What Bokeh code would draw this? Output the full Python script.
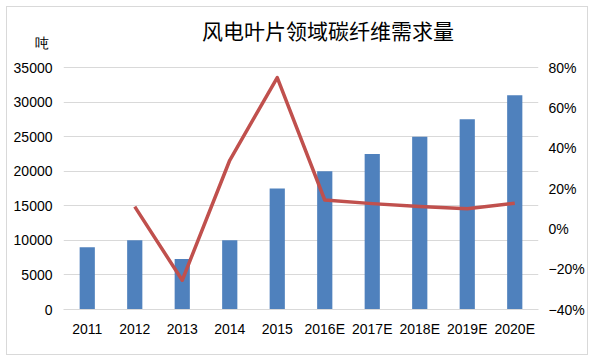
from bokeh.plotting import figure
from bokeh.models import Range1d, LinearAxis, FixedTicker, Label, ColumnDataSource, InlineStyleSheet
from bokeh.embed import file_html
from bokeh.resources import INLINE

years = ["2011", "2012", "2013", "2014", "2015", "2016E", "2017E", "2018E", "2019E", "2020E"]
demand = [9000, 10000, 7300, 10000, 17500, 20000, 22500, 25000, 27500, 31000]
growth_years = ["2012", "2013", "2014", "2015", "2016E", "2017E", "2018E", "2019E", "2020E"]
growth = [0.11, -0.255, 0.34, 0.75, 0.143, 0.125, 0.111, 0.10, 0.127]
left_ticks = [0, 5000, 10000, 15000, 20000, 25000, 30000, 35000]
right_ticks = [-0.4, -0.2, 0.0, 0.2, 0.4, 0.6, 0.8]
right_labels = ["\u221240%", "\u221220%", "0%", "20%", "40%", "60%", "80%"]
title_text = "风电叶片领域碳纤维需求量"
unit_text = "吨"

BLUE = "#4F81BD"
RED = "#C0504D"
GRID = "#D9D9D9"
FONT = "Liberation Sans"
CJK = "Noto Sans CJK SC"

W, H = 594, 358
FRAME_TOP, PLOT_TOP, FRAME_BOTTOM = 12, 67, 309  # page pixels
scale = (FRAME_BOTTOM - FRAME_TOP) / (FRAME_BOTTOM - PLOT_TOP)
left_max = left_ticks[-1] * scale
right_min, right_max = right_ticks[0], right_ticks[-1]
right_top = right_min + (right_max - right_min) * scale


def px_to_left(ypx):
    return (FRAME_BOTTOM - ypx) / (FRAME_BOTTOM - PLOT_TOP) * left_ticks[-1]


p = figure(x_range=years, y_range=Range1d(0, left_max), width=W, height=H,
           output_backend="svg", toolbar_location=None,
           min_border_left=63, min_border_right=56, min_border_top=FRAME_TOP,
           min_border_bottom=H - FRAME_BOTTOM)
p.outline_line_color = None
p.background_fill_color = "white"
p.border_fill_color = "white"
p.stylesheets = [InlineStyleSheet(css=(
    ":host { position: relative; }"
    ":host::after { content: ''; position: absolute; left: 6px; top: 6px; width: 580px;"
    " height: 347px; border: 1px solid #D9D9D9; pointer-events: none; z-index: 100; }"))]

p.extra_y_ranges = {"pct": Range1d(right_min, right_top)}

src = ColumnDataSource(dict(x=years, y=demand))
p.vbar(x="x", top="y", width=0.32, source=src, fill_color=BLUE, line_color=None)

lsrc = ColumnDataSource(dict(x=growth_years, y=growth))
p.line(x="x", y="y", source=lsrc, y_range_name="pct", line_color=RED, line_width=3.5,
       line_join="round")


def style_axis(ax, standoff):
    ax.axis_line_color = None
    ax.major_tick_line_color = None
    ax.minor_tick_line_color = None
    ax.major_tick_out = 0
    ax.major_tick_in = 0
    ax.minor_tick_out = 0
    ax.minor_tick_in = 0
    ax.major_label_text_font = FONT
    ax.major_label_text_font_size = "14px"
    ax.major_label_text_color = "#000000"
    ax.major_label_standoff = standoff


# left axis: value ticks plus the unit label "吨" above them
unit_pos = px_to_left(42)
ya = p.yaxis[0]
ya.ticker = FixedTicker(ticks=left_ticks + [unit_pos])
ya.major_label_overrides = {unit_pos: unit_text + "\u00a0"}
style_axis(ya, 11)

ra = LinearAxis(y_range_name="pct", ticker=FixedTicker(ticks=right_ticks))
ra.major_label_overrides = {t: l for t, l in zip(right_ticks, right_labels)}
style_axis(ra, 10)
p.add_layout(ra, "right")

xa = p.xaxis[0]
style_axis(xa, 11)
xa.axis_line_color = GRID

p.xgrid.grid_line_color = None
p.ygrid.grid_line_color = GRID
p.ygrid.ticker = FixedTicker(ticks=left_ticks)

title_x = (327.5 - 63) / 47.5
p.add_layout(Label(x=title_x, y=px_to_left(29), text=title_text, text_font=CJK,
                   text_font_size="21px", text_align="center", text_baseline="middle",
                   text_color="#000000"))

open("out.html", "w").write(file_html(p, INLINE))
